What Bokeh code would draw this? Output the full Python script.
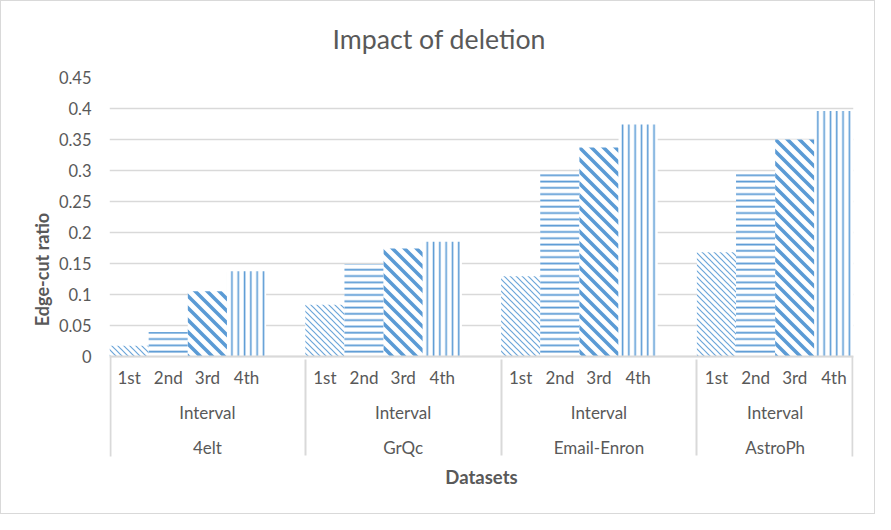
import base64
from bokeh.plotting import figure
from bokeh.models import FactorRange, Range1d, FixedTicker, ImageURLTexture, Title
from bokeh.core.properties import value
from bokeh.embed import file_html
from bokeh.resources import INLINE

# ---- data ----
datasets = ["4elt", "GrQc", "Email-Enron", "AstroPh"]
group_name = "Interval"
intervals = ["1st", "2nd", "3rd", "4th"]
spacer = " "

first = [0.017, 0.083, 0.129, 0.168]
second = [0.039, 0.149, 0.294, 0.294]
third = [0.105, 0.174, 0.337, 0.350]
fourth = [0.137, 0.185, 0.374, 0.396]
series = [first, second, third, fourth]

y_ticks = [0, 0.05, 0.1, 0.15, 0.2, 0.25, 0.3, 0.35, 0.4, 0.45]
y_tick_labels = ["0", "0.05", "0.1", "0.15", "0.2", "0.25", "0.3", "0.35", "0.4", "0.45"]

title_text = "Impact of deletion"
x_title = "Datasets"
y_title = "Edge-cut ratio"

# ---- styles ----
BLUE = "#5B9BD5"
TEXT = "#595959"
GRID = "#d9d9d9"
FONT = "Lato"
Y_MIN = -0.17        # room below zero for the multi-level category box
BOX_DEPTH = -0.162   # depth of the box edges under the category axis
EDGE_INSET = 0.475   # half-slot minus ~1px, so the 2px edge line stays visible


def diag_texture(scale, weight, color, opacity=1.0):
    """45-degree downward diagonal stripes as a repeating SVG tile."""
    s = scale
    svg = (f'<svg xmlns="http://www.w3.org/2000/svg" width="{s}" height="{s}">'
           f'<path d="M{-s},{-s}L{2*s},{2*s}M{-2*s},{-s}L{s},{2*s}M0,{-s}L{3*s},{2*s}" '
           f'stroke="{color}" stroke-opacity="{opacity}" stroke-width="{weight}" fill="none"/></svg>')
    url = "data:image/svg+xml;base64," + base64.b64encode(svg.encode()).decode()
    return ImageURLTexture(url=url)


hatch_styles = [
    dict(hatch_pattern=value("fine_diag"),
         hatch_extra={"fine_diag": diag_texture(6, 1.2, BLUE, 0.9)}),
    dict(hatch_pattern="-", hatch_scale=6.3, hatch_weight=1.8),
    dict(hatch_pattern=value("wide_diag"),
         hatch_extra={"wide_diag": diag_texture(12, 3.6, BLUE, 1.0)}),
    dict(hatch_pattern="|", hatch_scale=6.3, hatch_weight=1.6),
]

factors = []
for k, ds in enumerate(datasets):
    for iv in intervals:
        factors.append((ds, group_name, iv))
    if k < len(datasets) - 1:
        factors.append((ds, group_name, spacer))

x_range = FactorRange(factors=factors, range_padding=0, factor_padding=0,
                      subgroup_padding=0, group_padding=0)

p = figure(x_range=x_range, y_range=Range1d(Y_MIN, 0.45), width=875, height=514,
           output_backend="svg", toolbar_location=None,
           min_border_left=108, min_border_right=23, min_border_top=76,
           min_border_bottom=54, title=title_text)
p.outline_line_color = None
p.background_fill_color = "white"
p.border_fill_color = "white"

for i, iv in enumerate(intervals):
    xs = [(ds, group_name, iv) for ds in datasets]
    p.vbar(x=xs, top=series[i], width=1.0, bottom=0,
           fill_color="white", line_color=None,
           hatch_color=BLUE, **hatch_styles[i])

# left and right edges of the category box
edge_x = [tuple(factors[0]) + (-EDGE_INSET,), tuple(factors[-1]) + (EDGE_INSET,)]
p.segment(x0=edge_x, x1=edge_x, y0=[0, 0], y1=[BOX_DEPTH, BOX_DEPTH],
          line_color=GRID, line_width=2)

# title
p.title.text_font = FONT
p.title.text_font_size = "26.7px"
p.title.text_font_style = "normal"
p.title.text_color = TEXT
p.title.align = "left"
p.title.offset = 223
p.title.vertical_align = "top"
p.title.text_line_height = 1.0
p.title.standoff = 42

# y axis
p.yaxis.ticker = FixedTicker(ticks=y_ticks)
p.yaxis.major_label_overrides = dict(zip(y_ticks, y_tick_labels))
p.yaxis.axis_line_color = None
p.yaxis.major_tick_out = 0
p.yaxis.major_tick_in = 0
p.yaxis.minor_tick_out = 0
p.yaxis.minor_tick_in = 0
p.yaxis.major_label_standoff = 18
p.yaxis.major_label_text_font = FONT
p.yaxis.major_label_text_font_size = "16.5px"
p.yaxis.major_label_text_color = TEXT
p.yaxis.axis_label = y_title
p.yaxis.axis_label_text_font = FONT
p.yaxis.axis_label_text_font_size = "18px"
p.yaxis.axis_label_text_font_style = "bold"
p.yaxis.axis_label_text_color = TEXT
p.yaxis.axis_label_standoff = 3

p.ygrid.ticker = FixedTicker(ticks=y_ticks)
p.ygrid.grid_line_color = GRID
p.ygrid.grid_line_width = 1.3
p.xgrid.grid_line_color = None

# x axis (multi-level categories), drawn at y = 0
xa = p.xaxis[0]
xa.fixed_location = 0
xa.axis_line_color = GRID
xa.axis_line_width = 2
xa.major_tick_out = 0
xa.major_tick_in = 0
xa.minor_tick_out = 0
xa.minor_tick_in = 0
xa.major_label_standoff = 11
xa.major_label_text_font = FONT
xa.major_label_text_font_size = "17px"
xa.major_label_text_color = TEXT
xa.subgroup_text_font = FONT
xa.subgroup_text_font_size = "17px"
xa.subgroup_text_font_style = "normal"
xa.subgroup_text_color = TEXT
xa.group_text_font = FONT
xa.group_text_font_size = "17px"
xa.group_text_font_style = "normal"
xa.group_text_color = TEXT
xa.separator_line_color = GRID
xa.separator_line_width = 2

# x axis title (below the category box)
p.add_layout(Title(text=x_title, align="center", vertical_align="middle",
                   standoff=7, text_font=FONT, text_font_size="18.5px",
                   text_font_style="bold", text_color=TEXT), "below")

p.styles = {"border": "1px solid #d9d9d9"}

open("out.html", "w").write(file_html(p, INLINE))
